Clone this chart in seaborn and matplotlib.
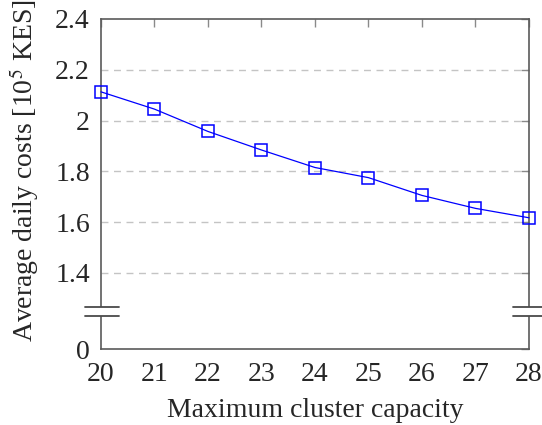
import matplotlib
matplotlib.use("Agg")
import matplotlib.pyplot as plt
import seaborn as sns
import pandas as pd

# Average daily cost per maximum cluster capacity
capacity = [20, 21, 22, 23, 24, 25, 26, 27, 28]
avg_cost = [2.113, 2.045, 1.957, 1.884, 1.815, 1.775, 1.705, 1.654, 1.617]

y_ticks = [1.1, 1.4, 1.6, 1.8, 2.0, 2.2, 2.4]
y_tick_labels = ["0", "1.4", "1.6", "1.8", "2", "2.2", "2.4"]
grid_levels = [1.4, 1.6, 1.8, 2.0, 2.2]

sns.set_style("white")
plt.rcParams["font.family"] = ["Liberation Serif", "DejaVu Serif"]
plt.rcParams["mathtext.fontset"] = "stix"

fig = plt.figure(figsize=(5.42, 4.25), dpi=100)
ax = fig.add_axes([0.1863, 0.1788, 0.976 - 0.1863, 0.9553 - 0.1788])

df = pd.DataFrame({"capacity": capacity, "cost": avg_cost})
for lv in grid_levels:
    ax.axhline(lv, color="#c4c4c4", lw=1.0, ls=(0, (5, 4)), zorder=0)

sns.lineplot(data=df, x="capacity", y="cost", ax=ax, color="#0000ff", lw=0.9,
             marker="s", markersize=8.5, markerfacecolor="none",
             markeredgecolor="#0000ff", markeredgewidth=1.1, zorder=3,
             clip_on=False)

ax.set_xlim(20, 28)
ax.set_ylim(1.1, 2.4)
ax.set_xticks(capacity)
ax.set_xticklabels([str(c) for c in capacity])
ax.set_yticks(y_ticks)
ax.set_yticklabels(y_tick_labels)

for s in ax.spines.values():
    s.set_color("#5a5a5a")
    s.set_linewidth(1.2)

ax.tick_params(direction="in", length=6, width=1.0, color="#8a8a8a",
               top=True, right=True, labelsize=20)
ax.tick_params(axis="x", pad=9)
ax.tick_params(axis="y", pad=8)

ax.set_xlabel("Maximum cluster capacity", fontsize=20, labelpad=8)
ax.set_ylabel("Average daily costs [10$^5$ KES]", fontsize=20)
ax.yaxis.set_label_coords(-0.14, 0.54)

# Axis break marks on both vertical axes
y_hi, y_lo = 0.128, 0.100
for x0, x1 in [(-0.037, 0.042), (0.963, 1.04)]:
    ax.fill_between([x0 + 0.01, x1 - 0.01], y_lo, y_hi, color="white",
                    transform=ax.transAxes, clip_on=False, zorder=5, lw=0)
    for yy in (y_lo, y_hi):
        ax.plot([x0, x1], [yy, yy], color="#4a4a4a", lw=1.3,
                transform=ax.transAxes, clip_on=False, zorder=6)

fig.savefig("out.png", dpi=100)
